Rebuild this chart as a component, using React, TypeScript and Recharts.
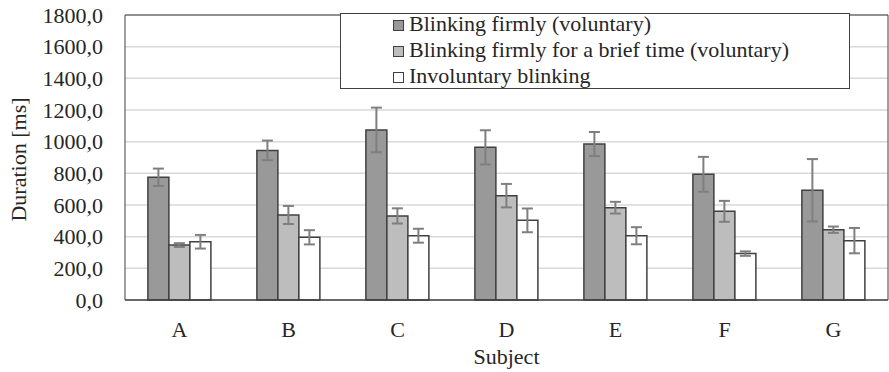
import React from "react"
import { BarChart, Bar, XAxis, YAxis, CartesianGrid, ErrorBar, Legend } from "recharts"

// Mean blink duration per subject (ms)
const subjects = ["A", "B", "C", "D", "E", "F", "G"]
const firm = [775, 945, 1074, 964, 985, 794, 693]
const firmErr = [55, 62, 141, 108, 76, 110, 197]
const brief = [347, 537, 531, 659, 583, 560, 444]
const briefErr = [12, 57, 48, 74, 37, 66, 20]
const involuntary = [368, 396, 406, 503, 406, 293, 375]
const involuntaryErr = [43, 45, 44, 75, 54, 14, 80]
const yTicks = [0, 200, 400, 600, 800, 1000, 1200, 1400, 1600, 1800]

const seriesInfo = [
  { key: "firm", name: "Blinking firmly (voluntary)", color: "#999999" },
  { key: "brief", name: "Blinking firmly for a brief time (voluntary)", color: "#bdbdbd" },
  { key: "involuntary", name: "Involuntary blinking", color: "#ffffff" },
]

const data = subjects.map((s, i) => ({
  subject: s,
  firm: firm[i],
  firmErr: firmErr[i],
  brief: brief[i],
  briefErr: briefErr[i],
  involuntary: involuntary[i],
  involuntaryErr: involuntaryErr[i],
}))

const FONT = "Liberation Serif"
const TEXT = "#262626"
const EDGE = "#404040"

const fmt = (v: number) => v.toFixed(1).replace(".", ",")

const YLabel = ({ viewBox }: any) => {
  const x = viewBox.x + 18
  const y = viewBox.y + viewBox.height / 2 + 2
  return (
    <text x={x} y={y} transform={`rotate(-90, ${x}, ${y})`} textAnchor="middle" dominantBaseline="central"
      fontFamily={FONT} fontSize={22} fill={TEXT}>
      Duration [ms]
    </text>
  )
}

const XLabel = ({ viewBox }: any) => (
  <text x={viewBox.x + viewBox.width / 2} y={viewBox.y + 64} textAnchor="middle"
    fontFamily={FONT} fontSize={22} fill={TEXT}>
    Subject
  </text>
)

const LegendBox = () => (
  <div style={{
    width: 510, height: 76, boxSizing: "border-box", border: `1px solid ${EDGE}`, background: "#fff",
    paddingLeft: 52, fontFamily: FONT, fontSize: 22, color: TEXT, lineHeight: "26px", textAlign: "left",
  }}>
    <div style={{ marginTop: -3 }}>
      {seriesInfo.map((s) => (
        <div key={s.key} style={{ display: "flex", alignItems: "center", whiteSpace: "nowrap", fontFamily: FONT }}>
          <span style={{
            display: "inline-block", width: 11, height: 11, boxSizing: "border-box",
            background: s.color, border: `1px solid ${EDGE}`, marginRight: 5, marginTop: 2,
          }} />
          {s.name}
        </div>
      ))}
    </div>
  </div>
)

export default function App() {
  return (
    <div style={{ position: "absolute", left: 0, top: 0, background: "#fff" }}>
      <BarChart width={889} height={372} data={data} barCategoryGap="21%" barGap={0}
        margin={{ top: 14, right: 0, left: 0, bottom: 0 }}>
        <CartesianGrid vertical={false} stroke="#d9d9d9" strokeWidth={1.5} />
        <XAxis dataKey="subject" height={72} tickLine={false} tickSize={0} tickMargin={21}
          axisLine={{ stroke: EDGE, strokeWidth: 1.5 }}
          tick={{ fontFamily: FONT, fontSize: 22, fill: TEXT }} label={<XLabel />} />
        <XAxis xAxisId="top" dataKey="subject" orientation="top" height={1} tick={false} tickLine={false}
          axisLine={{ stroke: EDGE, strokeWidth: 1 }} />
        <YAxis width={125} domain={[0, 1800]} ticks={yTicks} tickFormatter={fmt} tickLine={false}
          tickSize={0} tickMargin={22} interval={0}
          axisLine={{ stroke: EDGE, strokeWidth: 1 }}
          tick={{ fontFamily: FONT, fontSize: 22, fill: TEXT }} label={<YLabel />} />
        <YAxis yAxisId="right" orientation="right" width={1} tick={false} tickLine={false}
          axisLine={{ stroke: EDGE, strokeWidth: 1 }} />
        <Legend content={<LegendBox />} layout="horizontal" align="center" verticalAlign="middle"
          wrapperStyle={{ position: "absolute", left: 340, top: 13, width: 510, height: 76 }} />
        {seriesInfo.map((s) => (
          <Bar key={s.key} dataKey={s.key} name={s.name} fill={s.color} stroke={EDGE} strokeWidth={1.5}
            isAnimationActive={false}>
            <ErrorBar dataKey={`${s.key}Err`} width={5.5} stroke="#7f7f7f" strokeWidth={2}
              isAnimationActive={false} />
          </Bar>
        ))}
      </BarChart>
    </div>
  )
}
